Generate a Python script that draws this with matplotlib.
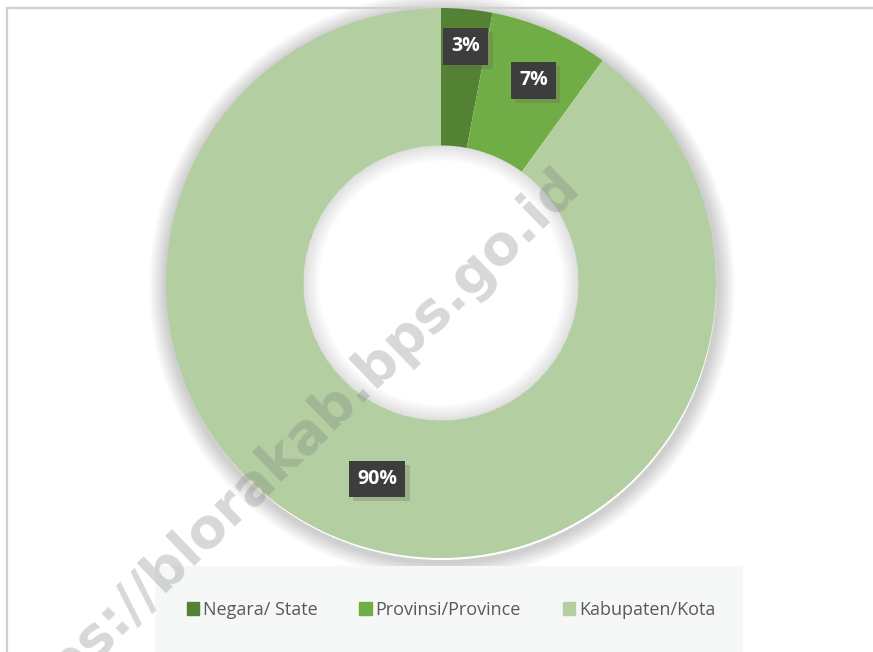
import numpy as np
import matplotlib.pyplot as plt
from matplotlib.patches import Rectangle, Wedge
import matplotlib.patheffects as pe

# data
categories = ["Negara/ State", "Provinsi/Province", "Kabupaten/Kota"]
shares = [3, 7, 90]
pct_labels = ["3%", "7%", "90%"]
colors = ["#548235", "#70ad47", "#b3cfa1"]

W, H = 873, 652
fig = plt.figure(figsize=(W / 100, H / 100), dpi=100)
ax = fig.add_axes([0, 0, 1, 1])

cx, cy, R = 441, H - 283, 275
hole = R * 0.5

# soft glow around the ring and inside the hole
for k in range(16):
    ax.add_patch(Wedge((cx + 1, cy - 3), R + 18 - k, 0, 360, width=18 - k + 1,
                       color="black", alpha=0.012, lw=0, zorder=1))
    ax.add_patch(Wedge((cx, cy), hole, 0, 360, width=16 - k,
                       color="black", alpha=0.008, lw=0, zorder=3))

wedges, _ = ax.pie(shares, colors=colors, startangle=90, counterclock=False,
                   center=(cx, cy), radius=R, frame=True,
                   wedgeprops=dict(width=R - hole, linewidth=0))
for w in wedges:
    w.set_zorder(2)

ax.set_xlim(0, W)
ax.set_ylim(0, H)
ax.set_aspect("equal")
ax.axis("off")

# frame (only top and left visible)
ax.plot([7, 7], [0, H - 8], color="#d0d0d0", lw=1.6, zorder=1)
ax.plot([7, W], [H - 8, H - 8], color="#d0d0d0", lw=1.6, zorder=1)

# data labels
radii = [0.865, 0.81, 0.75]
shift = [0.6, 1.2, 0]
cum = np.cumsum([0] + shares)
tot = sum(shares)
for i, lab in enumerate(pct_labels):
    mid = (cum[i] + cum[i + 1]) / 2 / tot * 360 + shift[i]
    ang = np.deg2rad(90 - mid)
    x = cx + radii[i] * R * np.cos(ang)
    y = cy + radii[i] * R * np.sin(ang)
    t = ax.text(x, y, lab, ha="center", va="center", color="white",
                fontsize=14, fontweight="bold", family="Open Sans", zorder=5,
                bbox=dict(boxstyle="square,pad=0.42", fc="#3d3d3d", ec="none"))
    t.get_bbox_patch().set_path_effects([
        pe.SimplePatchShadow(offset=(3, -3), shadow_rgbFace="#6a6a5a", alpha=0.3),
        pe.Normal()])

# legend background
ax.add_patch(Rectangle((155, 0), 588, H - 566, color="#f6f8f8", lw=0, zorder=3))

handles = [Rectangle((0, 0), 1, 1, color=c) for c in colors]
leg = ax.legend(handles, categories, loc="center", bbox_to_anchor=(451 / W, 1 - 610 / H),
                ncol=3, frameon=False, handlelength=0.7, handleheight=0.7,
                handletextpad=0.2, columnspacing=2.3,
                prop=dict(family="Open Sans", size=13))
for txt in leg.get_texts():
    txt.set_color("#595959")
leg.set_zorder(6)

# watermark
ax.text(280, H - 458, "https://blorakab.bps.go.id", rotation=44, ha="center",
        va="center", fontsize=39.5, fontweight="bold", color="#7d7d7d", alpha=0.3,
        family="DejaVu Sans", zorder=8, rotation_mode="anchor")

fig.savefig("out.png", dpi=100)
